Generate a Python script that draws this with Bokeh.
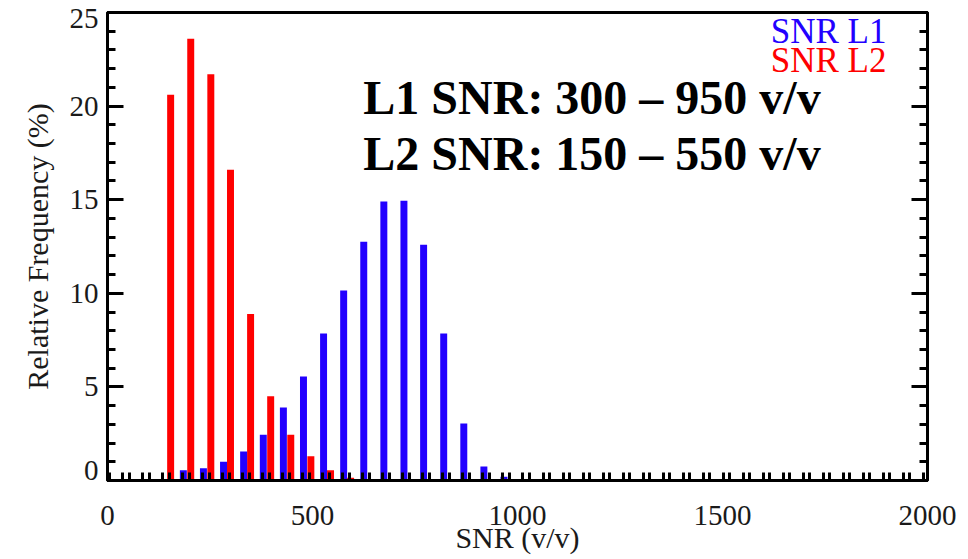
from bokeh.plotting import figure
from bokeh.models import Range1d, LinearAxis, FixedTicker, Label
from bokeh.embed import file_html
from bokeh.resources import INLINE

# ---- data ----
red_x = [154, 203, 252, 300, 349, 398, 447, 496, 544, 593]
red_pct = [20.6, 23.6, 21.7, 16.6, 8.9, 4.5, 2.45, 1.3, 0.55, 0.15]
blue_x = [185, 234, 283, 332, 380, 429, 478, 527, 576, 625, 674, 723, 771, 820, 869, 918, 967]
blue_pct = [0.55, 0.65, 1.0, 1.55, 2.45, 3.9, 5.55, 7.85, 10.15, 12.75, 14.9, 14.95, 12.6, 7.85, 3.05, 0.75, 0.2]
x_ticks = [0, 500, 1000, 1500, 2000]
y_ticks = [0, 5, 10, 15, 20, 25]
y_tick_labels = ["0", "5", "10", "15", "20", "25"]
legend_labels = ["SNR L1", "SNR L2"]
range_lines = ["L1 SNR: 300 \u2013 950 v/v", "L2 SNR: 150 \u2013 550 v/v"]

BLUE = "#2200FF"
RED = "#FF0000"
SERIF = "Liberation Serif"
TXT = "#1a1a1a"

p = figure(width=968, height=559, x_range=Range1d(0, 2000), y_range=Range1d(0, 25),
           output_backend="svg", toolbar_location=None,
           min_border_left=107, min_border_right=41, min_border_top=12, min_border_bottom=79)
p.grid.visible = False
p.outline_line_color = "black"
p.outline_line_width = 3

p.vbar(x=red_x, top=red_pct, width=17, fill_color=RED, line_color=None)
p.vbar(x=blue_x, top=blue_pct, width=17, fill_color=BLUE, line_color=None)

# x axis ticks (paired minor ticks along the bin grid)
step = 48.8
xminor = []
for k in range(-3, 40):
    for off in (135, 151):
        v = off + step * k
        if 0 < v < 2000:
            xminor.append(round(v, 1))
xa = p.xaxis[0]
xa.ticker = FixedTicker(ticks=x_ticks, minor_ticks=xminor)
xa.major_tick_in = 0
xa.major_tick_out = 0
xa.minor_tick_in = 8
xa.minor_tick_out = 0
xa.minor_tick_line_width = 3
xa.axis_line_width = 3
xa.major_label_text_font = SERIF
xa.major_label_text_font_size = "29px"
xa.major_label_text_color = TXT
xa.major_label_standoff = 25
xa.axis_label = "SNR (v/v)"
xa.axis_label_text_font = SERIF
xa.axis_label_text_font_style = "normal"
xa.axis_label_text_font_size = "30px"
xa.axis_label_text_color = TXT
xa.axis_label_standoff = -7

# left axis: line and tick marks only
ya = p.yaxis[0]
ya.ticker = FixedTicker(ticks=y_ticks, minor_ticks=list(range(0, 26)))
ya.major_label_overrides = {t: "" for t in y_ticks}
ya.major_label_standoff = 0
ya.major_tick_in = 16
ya.major_tick_out = 0
ya.minor_tick_in = 8
ya.minor_tick_out = 0
ya.major_tick_line_width = 3
ya.minor_tick_line_width = 3
ya.axis_line_width = 3

# outer left axis: tick labels (end labels nudged inward as in the reference) + title
label_pos = [0.55, 5, 10, 15, 20, 24.7]
la = LinearAxis(ticker=FixedTicker(ticks=label_pos),
                major_label_overrides={pos: lab for pos, lab in zip(label_pos, y_tick_labels)},
                axis_line_color=None, major_tick_line_color=None, minor_tick_line_color=None,
                major_tick_in=0, major_tick_out=0, minor_tick_in=0, minor_tick_out=0,
                major_label_standoff=9,
                major_label_text_font=SERIF, major_label_text_font_size="29px",
                major_label_text_color=TXT,
                axis_label="Relative Frequency (%)", axis_label_text_font=SERIF,
                axis_label_text_font_style="normal", axis_label_text_font_size="30px",
                axis_label_text_color=TXT, axis_label_standoff=13)
p.add_layout(la, "left")

ra = LinearAxis(ticker=FixedTicker(ticks=y_ticks, minor_ticks=list(range(0, 26))),
                major_label_overrides={t: "" for t in y_ticks},
                major_tick_in=16, major_tick_out=0, minor_tick_in=8, minor_tick_out=0,
                major_tick_line_width=3, minor_tick_line_width=3, axis_line_width=3)
p.add_layout(ra, "right")

for txt, yv in zip(range_lines, [20.47, 17.47]):
    p.add_layout(Label(x=624, y=yv, text=txt, text_font=SERIF, text_font_style="bold",
                       text_font_size="48px", text_color="black", text_baseline="alphabetic"))

for txt, yv, col in zip(legend_labels, [23.99, 22.44], [BLUE, RED]):
    p.add_layout(Label(x=1900, y=yv, text=txt, text_font=SERIF, text_font_size="35px",
                       text_color=col, text_align="right", text_baseline="alphabetic"))

open("out.html", "w").write(file_html(p, INLINE))
